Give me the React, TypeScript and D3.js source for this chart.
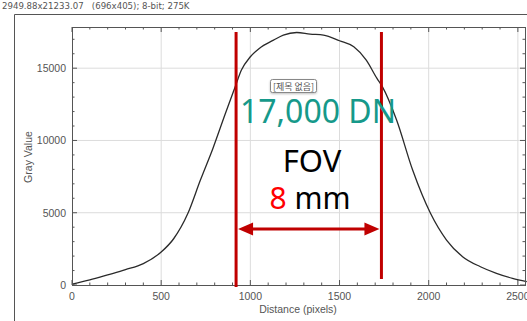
import { useEffect, useRef } from 'react';
import * as d3 from 'd3';

// profile plot values
const distance = [0, 100, 200, 300, 400, 500, 570, 650, 720, 790, 860, 915, 950, 1000, 1050, 1130, 1185, 1260, 1335, 1410, 1500, 1580, 1650, 1710, 1740, 1820, 1910, 2010, 2100, 2190, 2290, 2380, 2470, 2550];
const grayValue = [50, 350, 700, 1060, 1480, 2280, 3200, 4960, 7260, 9450, 11870, 13720, 14870, 15790, 16370, 16940, 17290, 17470, 17360, 17290, 16900, 16480, 15560, 14290, 13720, 11410, 7950, 4960, 3110, 1960, 1265, 810, 460, 230];
const xTicks = [0, 500, 1000, 1500, 2000, 2500];
const yTicks = [0, 5000, 10000, 15000];
const fovEdges = [920, 1735];

export default function App() {
    const svgRef = useRef<SVGSVGElement>(null);
    const width = 527;
    const height = 321;

    useEffect(() => {
        if (!svgRef.current) return;
        const svg = d3.select(svgRef.current);
        svg.selectAll('*').remove();

        const left = 72, right = 525, top = 27, bottom = 285;
        const x = d3.scaleLinear().domain([0, 2540]).range([left, right]);
        const y = d3.scaleLinear().domain([0, 17850]).range([bottom, top]);
        const axisFont = '"Liberation Sans", Arial, sans-serif';
        const annFont = '"Noto Sans", sans-serif';

        // window header
        svg.append('text')
            .attr('x', 2).attr('y', 9)
            .attr('font-family', '"DejaVu Sans", sans-serif').attr('font-size', 8.6)
            .attr('fill', '#555')
            .style('white-space', 'pre')
            .text('2949.88x21233.07   (696x405); 8-bit; 275K');
        svg.append('path')
            .attr('d', `M14.5,${height} V14.5 H${width}`)
            .attr('fill', 'none').attr('stroke', '#555').attr('stroke-width', 1);

        // grid
        const g = svg.append('g');
        g.selectAll('.gx').data(xTicks.filter(d => d > 0)).enter().append('line')
            .attr('x1', d => x(d)).attr('x2', d => x(d))
            .attr('y1', top).attr('y2', bottom)
            .attr('stroke', '#dcdcdc').attr('stroke-width', 1);
        g.selectAll('.gy').data(yTicks.filter(d => d > 0)).enter().append('line')
            .attr('x1', left).attr('x2', right)
            .attr('y1', d => y(d)).attr('y2', d => y(d))
            .attr('stroke', '#dcdcdc').attr('stroke-width', 1);

        // ticks (inward, on all four sides)
        const xMinor = d3.range(0, 2541, 100);
        const yMinor = d3.range(0, 17851, 1000);
        xMinor.forEach(d => {
            const len = d % 500 === 0 ? 5 : 2.5;
            g.append('line').attr('x1', x(d)).attr('x2', x(d)).attr('y1', bottom).attr('y2', bottom - len)
                .attr('stroke', '#555');
            g.append('line').attr('x1', x(d)).attr('x2', x(d)).attr('y1', top).attr('y2', top + len)
                .attr('stroke', '#555');
        });
        yMinor.forEach(d => {
            const len = d % 5000 === 0 ? 5 : 2.5;
            g.append('line').attr('x1', left).attr('x2', left + len).attr('y1', y(d)).attr('y2', y(d))
                .attr('stroke', '#555');
            g.append('line').attr('x1', right).attr('x2', right - len).attr('y1', y(d)).attr('y2', y(d))
                .attr('stroke', '#555');
        });

        // curve
        const pts = distance.map((d, i) => [d, grayValue[i]] as [number, number]);
        svg.append('clipPath').attr('id', 'plotClip').append('rect')
            .attr('x', left).attr('y', top).attr('width', right - left + 2).attr('height', bottom - top);
        svg.append('path')
            .datum(pts)
            .attr('clip-path', 'url(#plotClip)')
            .attr('fill', 'none')
            .attr('stroke', '#2a2a2a')
            .attr('stroke-width', 1.3)
            .attr('d', d3.line<[number, number]>().x(d => x(d[0])).y(d => y(d[1])).curve(d3.curveMonotoneX));

        // frame
        svg.append('rect')
            .attr('x', left + 0.5).attr('y', top + 0.5)
            .attr('width', right - left).attr('height', bottom - top)
            .attr('fill', 'none').attr('stroke', '#555').attr('stroke-width', 1);

        // tick labels
        svg.selectAll('.xl').data(xTicks).enter().append('text')
            .attr('x', d => x(d)).attr('y', 300)
            .attr('text-anchor', 'middle')
            .attr('font-family', axisFont).attr('font-size', 10.5).attr('fill', '#555')
            .text(d => d);
        svg.selectAll('.yl').data(yTicks).enter().append('text')
            .attr('x', 66).attr('y', d => y(d) + 4)
            .attr('text-anchor', 'end')
            .attr('font-family', axisFont).attr('font-size', 10.5).attr('fill', '#555')
            .text(d => d);
        svg.append('text')
            .attr('x', 298).attr('y', 313)
            .attr('text-anchor', 'middle')
            .attr('font-family', axisFont).attr('font-size', 10.5).attr('fill', '#555')
            .text('Distance (pixels)');
        svg.append('text')
            .attr('transform', 'translate(32,157) rotate(-90)')
            .attr('text-anchor', 'middle')
            .attr('font-family', axisFont).attr('font-size', 10.5).attr('fill', '#555')
            .text('Gray Value');

        // FOV markers
        const red = '#c00000';
        fovEdges.forEach((d, i) => {
            svg.append('line')
                .attr('x1', x(d)).attr('x2', x(d))
                .attr('y1', 32).attr('y2', i === 0 ? 287 : 279)
                .attr('stroke', red).attr('stroke-width', 3);
        });
        const ay = 229;
        const ax0 = x(fovEdges[0]) + 2, ax1 = x(fovEdges[1]) - 2;
        svg.append('line')
            .attr('x1', ax0 + 12).attr('x2', ax1 - 12).attr('y1', ay).attr('y2', ay)
            .attr('stroke', red).attr('stroke-width', 3);
        svg.append('path')
            .attr('d', `M${ax0},${ay} L${ax0 + 15},${ay - 6.5} L${ax0 + 15},${ay + 6.5} Z`)
            .attr('fill', red);
        svg.append('path')
            .attr('d', `M${ax1},${ay} L${ax1 - 15},${ay - 6.5} L${ax1 - 15},${ay + 6.5} Z`)
            .attr('fill', red);

        // title badge
        const badge = svg.append('g');
        badge.append('rect')
            .attr('x', 270.5).attr('y', 79.5).attr('width', 46).attr('height', 13).attr('rx', 2)
            .attr('fill', '#fff').attr('stroke', '#888').attr('stroke-width', 1)
            .style('filter', 'drop-shadow(0px 1px 1px rgba(0,0,0,0.25))');
        badge.append('text')
            .attr('x', 293.5).attr('y', 89.5)
            .attr('text-anchor', 'middle')
            .attr('font-family', '"Noto Sans CJK KR", sans-serif').attr('font-size', 9).attr('fill', '#555')
            .text('[제목 없음]');

        svg.append('text')
            .attr('x', 318).attr('y', 123)
            .attr('text-anchor', 'middle')
            .attr('font-family', annFont).attr('font-size', 32).attr('fill', '#16998a')
            .text('17,000 DN');
        svg.append('text')
            .attr('x', 312).attr('y', 172)
            .attr('text-anchor', 'middle')
            .attr('font-family', annFont).attr('font-size', 31).attr('fill', '#000')
            .text('FOV');
        const mm = svg.append('text')
            .attr('x', 310).attr('y', 209)
            .attr('text-anchor', 'middle')
            .attr('font-family', annFont).attr('font-size', 30).attr('fill', '#000');
        mm.append('tspan').attr('fill', '#ff0000').text('8');
        mm.append('tspan').text(' mm');
    }, []);

    return (
        <div style={{ position: 'fixed', left: 0, top: 0, width, height, background: '#fff' }}>
            <svg ref={svgRef} width={width} height={height} style={{ display: 'block' }} />
        </div>
    );
}
